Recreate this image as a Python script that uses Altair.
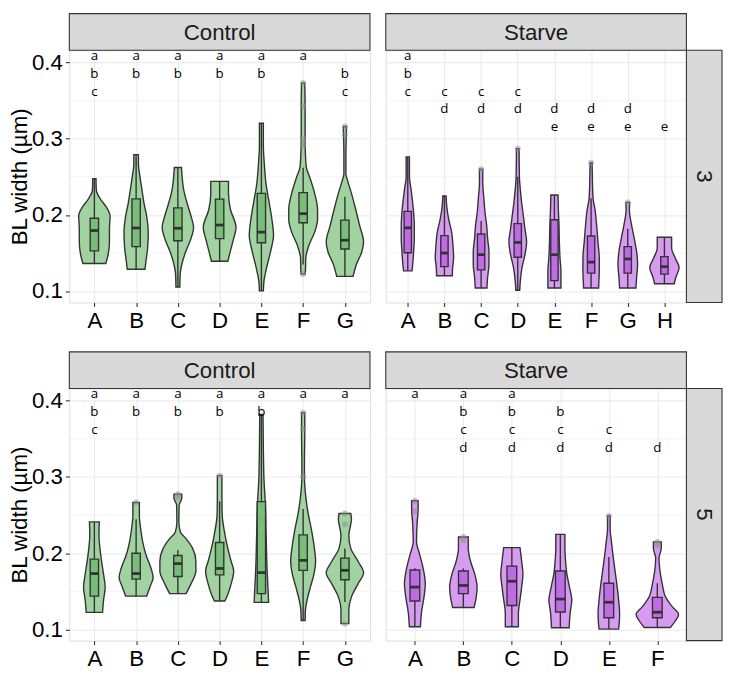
import altair as alt
import pandas as pd

# ---------------- data ----------------
# violin profiles: (BL width value, half-width in category units)
# box stats: (lower whisker, q1, median, q3, upper whisker)

R3_CTRL_CATS = ["A", "B", "C", "D", "E", "F", "G"]
R3_CTRL_VIOLIN = [
    [(0.2474, 0.039), (0.2325, 0.047), (0.2198, 0.157), (0.2113, 0.275), (0.1986, 0.376),
     (0.1816, 0.361), (0.1647, 0.361), (0.1477, 0.329), (0.1363, 0.275)],
    [(0.2792, 0.055), (0.2665, 0.055), (0.2495, 0.094), (0.2325, 0.141), (0.2156, 0.188),
     (0.1986, 0.251), (0.1774, 0.290), (0.1562, 0.275), (0.1392, 0.235), (0.1286, 0.212)],
    [(0.2622, 0.086), (0.2495, 0.102), (0.2325, 0.141), (0.2156, 0.220), (0.1986, 0.314),
     (0.1838, 0.376), (0.1689, 0.314), (0.1520, 0.188), (0.1350, 0.094), (0.1223, 0.055),
     (0.1053, 0.047)],
    [(0.2440, 0.212), (0.2283, 0.212), (0.2071, 0.259), (0.1838, 0.392), (0.1647, 0.314),
     (0.1477, 0.235), (0.1392, 0.196)],
    [(0.3203, 0.047), (0.2919, 0.047), (0.2665, 0.071), (0.2410, 0.110), (0.2156, 0.188),
     (0.1944, 0.251), (0.1732, 0.290), (0.1520, 0.220), (0.1307, 0.125), (0.1138, 0.063),
     (0.1002, 0.047)],
    [(0.3733, 0.039), (0.3428, 0.047), (0.3004, 0.047), (0.2792, 0.055), (0.2622, 0.078),
     (0.2495, 0.157), (0.2283, 0.275), (0.2071, 0.345), (0.1944, 0.345), (0.1774, 0.275),
     (0.1604, 0.141), (0.1435, 0.063), (0.1265, 0.055), (0.1223, 0.047)],
    [(0.3161, 0.039), (0.3004, 0.031), (0.2792, 0.024), (0.2538, 0.024), (0.2453, 0.063),
     (0.2283, 0.157), (0.2071, 0.259), (0.1859, 0.353), (0.1647, 0.447), (0.1520, 0.408),
     (0.1350, 0.275), (0.1193, 0.196)],
]
R3_CTRL_BOX = [
    (0.1363, 0.1528, 0.1795, 0.1956, 0.2474),
    (0.1286, 0.1583, 0.1829, 0.2211, 0.2792),
    (0.1053, 0.1660, 0.1825, 0.2092, 0.2622),
    (0.1392, 0.1689, 0.1867, 0.2207, 0.2440),
    (0.1002, 0.1634, 0.1774, 0.2283, 0.3203),
    (0.1350, 0.1897, 0.2016, 0.2292, 0.2620),
    (0.1193, 0.1553, 0.1668, 0.1931, 0.2240),
]
R3_CTRL_OUT = [[], [], [], [], [], [0.3733, 0.3428, 0.3000, 0.2950, 0.2905, 0.1223], [0.3161, 0.3050]]
R3_CTRL_LETTERS = ["abc", "ab", "ab", "ab", "ab", "a", "bc"]

R3_STARVE_CATS = ["A", "B", "C", "D", "E", "F", "G", "H"]
R3_STARVE_VIOLIN = [
    [(0.2762, 0.045), (0.2495, 0.045), (0.2368, 0.080), (0.2198, 0.125), (0.2029, 0.160),
     (0.1859, 0.178), (0.1690, 0.178), (0.1520, 0.160), (0.1350, 0.134), (0.1265, 0.116)],
    [(0.2249, 0.045), (0.2114, 0.062), (0.1944, 0.116), (0.1774, 0.196), (0.1605, 0.232),
     (0.1435, 0.250), (0.1308, 0.223), (0.1202, 0.214)],
    [(0.2601, 0.045), (0.2411, 0.045), (0.2241, 0.071), (0.2029, 0.107), (0.1859, 0.152),
     (0.1690, 0.178), (0.1520, 0.214), (0.1350, 0.214), (0.1181, 0.178), (0.1041, 0.160)],
    [(0.2869, 0.036), (0.2495, 0.045), (0.2326, 0.071), (0.2156, 0.107), (0.1986, 0.152),
     (0.1817, 0.196), (0.1647, 0.241), (0.1478, 0.196), (0.1308, 0.116), (0.1138, 0.071),
     (0.1011, 0.053)],
    [(0.2262, 0.098), (0.2071, 0.107), (0.1859, 0.125), (0.1647, 0.134), (0.1435, 0.152),
     (0.1265, 0.178), (0.1041, 0.178)],
    [(0.2686, 0.027), (0.2453, 0.036), (0.2220, 0.053), (0.2071, 0.107), (0.1859, 0.152),
     (0.1647, 0.187), (0.1435, 0.223), (0.1265, 0.223), (0.1138, 0.214), (0.1041, 0.205)],
    [(0.2165, 0.053), (0.2071, 0.045), (0.1859, 0.107), (0.1690, 0.178), (0.1520, 0.241),
     (0.1350, 0.267), (0.1181, 0.241), (0.1041, 0.223)],
    [(0.1707, 0.196), (0.1562, 0.196), (0.1435, 0.294), (0.1308, 0.401), (0.1181, 0.312),
     (0.1096, 0.267)],
]
R3_STARVE_BOX = [
    (0.1265, 0.1503, 0.1830, 0.2046, 0.2762),
    (0.1202, 0.1321, 0.1499, 0.1728, 0.2249),
    (0.1041, 0.1278, 0.1478, 0.1749, 0.1920),
    (0.1011, 0.1444, 0.1639, 0.1885, 0.2500),
    (0.1041, 0.1138, 0.1478, 0.1936, 0.2262),
    (0.1041, 0.1236, 0.1380, 0.1723, 0.2220),
    (0.1041, 0.1236, 0.1422, 0.1584, 0.1820),
    (0.1096, 0.1223, 0.1321, 0.1452, 0.1707),
]
R3_STARVE_OUT = [[], [], [0.2601], [0.2869], [], [0.2686], [0.2165], []]
R3_STARVE_LETTERS = ["abc", "cd", "cd", "cd", "de", "de", "de", "e"]

R5_CTRL_CATS = ["A", "B", "C", "D", "E", "F", "G"]
R5_CTRL_VIOLIN = [
    [(0.2410, 0.118), (0.2232, 0.110), (0.2062, 0.133), (0.1893, 0.173), (0.1723, 0.220),
     (0.1553, 0.259), (0.1384, 0.220), (0.1223, 0.196)],
    [(0.2665, 0.078), (0.2486, 0.078), (0.2317, 0.110), (0.2147, 0.157), (0.1978, 0.235),
     (0.1808, 0.353), (0.1681, 0.408), (0.1553, 0.329), (0.1435, 0.251)],
    [(0.2775, 0.094), (0.2720, 0.094), (0.2635, 0.031), (0.2402, 0.024), (0.2274, 0.063),
     (0.2190, 0.196), (0.2062, 0.353), (0.1893, 0.431), (0.1766, 0.431), (0.1596, 0.314),
     (0.1469, 0.196)],
    [(0.3017, 0.055), (0.2699, 0.055), (0.2486, 0.063), (0.2274, 0.118), (0.2062, 0.196),
     (0.1893, 0.275), (0.1766, 0.337), (0.1596, 0.275), (0.1470, 0.204), (0.1371, 0.125)],
    [(0.3822, 0.039), (0.3377, 0.047), (0.2953, 0.063), (0.2656, 0.094), (0.2316, 0.110),
     (0.1977, 0.125), (0.1723, 0.141), (0.1553, 0.157), (0.1354, 0.173)],
    [(0.3843, 0.039), (0.3589, 0.039), (0.3165, 0.031), (0.2995, 0.031), (0.2740, 0.063),
     (0.2528, 0.118), (0.2316, 0.196), (0.2104, 0.259), (0.1892, 0.298), (0.1723, 0.259),
     (0.1553, 0.173), (0.1383, 0.094), (0.1256, 0.055), (0.1116, 0.047)],
    [(0.2520, 0.141), (0.2444, 0.157), (0.2360, 0.133), (0.2232, 0.094), (0.2062, 0.141),
     (0.1893, 0.314), (0.1744, 0.447), (0.1596, 0.314), (0.1426, 0.157), (0.1256, 0.094),
     (0.1074, 0.094)],
]
R5_CTRL_BOX = [
    (0.1223, 0.1435, 0.1732, 0.1922, 0.2410),
    (0.1435, 0.1659, 0.1732, 0.1999, 0.2444),
    (0.1469, 0.1693, 0.1863, 0.1969, 0.2040),
    (0.1371, 0.1715, 0.1799, 0.2139, 0.2680),
    (0.1354, 0.1468, 0.1744, 0.2677, 0.3822),
    (0.1116, 0.1774, 0.1905, 0.2240, 0.2580),
    (0.1360, 0.1651, 0.1774, 0.1935, 0.2060),
]
R5_CTRL_OUT = [[], [0.2665], [0.2775, 0.2730], [0.3017], [], [0.3843, 0.3630, 0.3000], [0.2520, 0.2380, 0.1074]]
R5_CTRL_LETTERS = ["abc", "ab", "ab", "ab", "ab", "a", "a"]

R5_STARVE_CATS = ["A", "B", "C", "D", "E", "F"]
R5_STARVE_VIOLIN = [
    [(0.2687, 0.067), (0.2572, 0.067), (0.2402, 0.047), (0.2148, 0.034), (0.1978, 0.101),
     (0.1809, 0.168), (0.1597, 0.215), (0.1427, 0.189), (0.1215, 0.135), (0.1033, 0.114)],
    [(0.2212, 0.101), (0.2063, 0.101), (0.1894, 0.148), (0.1724, 0.236), (0.1554, 0.283),
     (0.1385, 0.256), (0.1287, 0.222)],
    [(0.2072, 0.168), (0.1894, 0.202), (0.1724, 0.229), (0.1554, 0.202), (0.1385, 0.168),
     (0.1215, 0.135), (0.1033, 0.135)],
    [(0.2246, 0.094), (0.2063, 0.094), (0.1894, 0.108), (0.1724, 0.135), (0.1554, 0.189),
     (0.1385, 0.236), (0.1215, 0.202), (0.1020, 0.182)],
    [(0.2487, 0.027), (0.2318, 0.027), (0.2148, 0.054), (0.1894, 0.101), (0.1639, 0.155),
     (0.1385, 0.202), (0.1215, 0.222), (0.1088, 0.215), (0.1003, 0.202)],
    [(0.2148, 0.081), (0.2063, 0.081), (0.1936, 0.034), (0.1766, 0.054), (0.1597, 0.101),
     (0.1427, 0.168), (0.1300, 0.303), (0.1194, 0.438), (0.1109, 0.370), (0.1024, 0.269)],
]
R5_STARVE_BOX = [
    (0.1033, 0.1372, 0.1554, 0.1779, 0.1800),
    (0.1287, 0.1469, 0.1575, 0.1766, 0.1800),
    (0.1033, 0.1313, 0.1631, 0.1830, 0.2072),
    (0.1020, 0.1228, 0.1397, 0.1766, 0.2246),
    (0.1003, 0.1151, 0.1355, 0.1605, 0.1950),
    (0.1024, 0.1151, 0.1224, 0.1419, 0.1605),
]
R5_STARVE_OUT = [[0.2687, 0.2550], [0.2212, 0.2170], [], [], [0.2487], [0.2148, 0.2100]]
R5_STARVE_LETTERS = ["a", "abcd", "abcd", "bcd", "cd", "d"]

Y_TICKS = [0.1, 0.2, 0.3, 0.4]
Y_MINOR = [0.15, 0.25, 0.35]

# ---------------- style ----------------
Y_DOMAIN = [0.0851, 0.4162]
LETTER_ORDER = "abcde"
LETTER_TOP = 0.4085
LETTER_STEP = 0.0233
W, H, STRIP, ROW_STRIP = 304, 255, 37, 36
BOX_HALF = 0.1
FONT = "Liberation Sans"
BIG = 22.5
DARK = "#333333"
GRID = "#ebebeb"
LINE = 1.4
GREEN = ("#a1d3a1", "#78bd78")
PURPLE = ("#d79cf1", "#c06be6")


def build_panel(cats, violin, box, outl, letters, colors, col_title, row_title, show_y):
    n = len(cats)
    vrows, brows, wrows, orows, lrows = [], [], [], [], []
    for i, (c, prof) in enumerate(zip(cats, violin), start=1):
        for (y, hw) in prof:
            vrows.append({"cat": c, "y": y, "xlo": i - hw, "xhi": i + hw})
    for i, (c, (lo, q1, med, q3, hi)) in enumerate(zip(cats, box), start=1):
        brows.append({"cat": c, "bx0": i - BOX_HALF, "bx1": i + BOX_HALF,
                      "q1": q1, "med": med, "q3": q3})
        wrows.append({"cat": c, "x": i, "y0": lo, "y1": q1})
        wrows.append({"cat": c, "x": i, "y0": q3, "y1": hi})
    for i, (c, pts) in enumerate(zip(cats, outl), start=1):
        for p in pts:
            orows.append({"cat": c, "x": i, "y": p})
    for i, (c, lets) in enumerate(zip(cats, letters), start=1):
        for ch in lets:
            lrows.append({"cat": c, "x": i, "letter": ch,
                          "y": LETTER_TOP - LETTER_STEP * LETTER_ORDER.index(ch)})

    label_js = "[" + ",".join("'%s'" % c for c in cats) + "][datum.value-1]"
    xscale = alt.Scale(domain=[0.4, n + 0.6], nice=False, zero=False)
    yscale = alt.Scale(domain=Y_DOMAIN, nice=False, zero=False)
    xaxis = alt.Axis(values=list(range(1, n + 1)), labelExpr=label_js, title=None,
                     grid=True, gridColor=GRID, gridWidth=1.1, domain=False,
                     tickColor=DARK, tickSize=4, tickWidth=1.1, labelFontSize=BIG,
                     labelFont=FONT, labelColor="black", labelPadding=3)
    if show_y:
        yaxis = alt.Axis(values=Y_TICKS, format=".1f", title="BL width (µm)",
                         grid=True, gridColor=GRID, gridWidth=1.1, domain=False,
                         tickColor=DARK, tickSize=4, tickWidth=1.1, labelFontSize=BIG,
                         labelFont=FONT, labelColor="black", labelPadding=3,
                         titleFont=FONT, titleFontSize=BIG, titleFontWeight="normal",
                         titleColor="black", titlePadding=0)
    else:
        yaxis = alt.Axis(values=Y_TICKS, title=None, labels=False, ticks=False,
                         grid=True, gridColor=GRID, gridWidth=1.1, domain=False)

    minor = alt.Chart(pd.DataFrame({"y": Y_MINOR})).mark_rule(
        color=GRID, strokeWidth=0.6).encode(y=alt.Y("y:Q", scale=yscale, axis=yaxis))

    violins = alt.Chart(pd.DataFrame(vrows)).mark_area(
        orient="horizontal", interpolate="monotone", fill=colors[0],
        stroke=DARK, strokeWidth=LINE, fillOpacity=1).encode(
        y=alt.Y("y:Q", scale=yscale, axis=yaxis),
        x=alt.X("xlo:Q", scale=xscale, axis=xaxis),
        x2="xhi:Q",
        detail="cat:N")

    whisk = alt.Chart(pd.DataFrame(wrows)).mark_rule(color=DARK, strokeWidth=LINE).encode(
        x=alt.X("x:Q", scale=xscale, axis=xaxis),
        y=alt.Y("y0:Q", scale=yscale, axis=yaxis), y2="y1:Q")

    boxes = alt.Chart(pd.DataFrame(brows)).mark_rect(
        fill=colors[1], stroke=DARK, strokeWidth=LINE).encode(
        x=alt.X("bx0:Q", scale=xscale, axis=xaxis), x2="bx1:Q",
        y=alt.Y("q1:Q", scale=yscale, axis=yaxis), y2="q3:Q")

    medians = alt.Chart(pd.DataFrame(brows)).mark_rule(color=DARK, strokeWidth=2.8).encode(
        x=alt.X("bx0:Q", scale=xscale, axis=xaxis), x2="bx1:Q",
        y=alt.Y("med:Q", scale=yscale, axis=yaxis))

    layers = [minor, violins, whisk, boxes, medians]
    if orows:
        pts = alt.Chart(pd.DataFrame(orows)).mark_circle(
            size=36, color="#8c8c8c", opacity=0.5).encode(
            x=alt.X("x:Q", scale=xscale, axis=xaxis),
            y=alt.Y("y:Q", scale=yscale, axis=yaxis))
        layers.append(pts)

    lets = alt.Chart(pd.DataFrame(lrows)).mark_text(
        font="Open Sans", fontSize=13.5, color="#000000", baseline="middle").encode(
        x=alt.X("x:Q", scale=xscale, axis=xaxis),
        y=alt.Y("y:Q", scale=yscale, axis=yaxis),
        text="letter:N")
    layers.append(lets)

    sdf = pd.DataFrame({"label": [col_title]})
    srect = alt.Chart(sdf).mark_rect(fill="#d9d9d9", stroke=DARK, strokeWidth=1.1).encode(
        x=alt.value(0), x2=alt.value(W), y=alt.value(-STRIP), y2=alt.value(0))
    stext = alt.Chart(sdf).mark_text(font=FONT, fontSize=BIG, color="#1a1a1a",
                                     baseline="middle", align="center").encode(
        x=alt.value(W / 2), y=alt.value(-STRIP / 2 + 1), text="label:N")
    layers += [srect, stext]

    if row_title is not None:
        rdf = pd.DataFrame({"label": [row_title]})
        rrect = alt.Chart(rdf).mark_rect(fill="#d9d9d9", stroke=DARK, strokeWidth=1.1).encode(
            x=alt.value(W), x2=alt.value(W + ROW_STRIP), y=alt.value(0), y2=alt.value(H))
        rtext = alt.Chart(rdf).mark_text(font=FONT, fontSize=BIG, color="#1a1a1a",
                                         baseline="middle", align="center", angle=90).encode(
            x=alt.value(W + ROW_STRIP / 2), y=alt.value(H / 2), text="label:N")
        layers += [rrect, rtext]

    return alt.layer(*layers).properties(width=W, height=H)


p1 = build_panel(R3_CTRL_CATS, R3_CTRL_VIOLIN, R3_CTRL_BOX, R3_CTRL_OUT, R3_CTRL_LETTERS,
                 GREEN, "Control", None, True)
p2 = build_panel(R3_STARVE_CATS, R3_STARVE_VIOLIN, R3_STARVE_BOX, R3_STARVE_OUT,
                 R3_STARVE_LETTERS, PURPLE, "Starve", "3", False)
p3 = build_panel(R5_CTRL_CATS, R5_CTRL_VIOLIN, R5_CTRL_BOX, R5_CTRL_OUT, R5_CTRL_LETTERS,
                 GREEN, "Control", None, True)
p4 = build_panel(R5_STARVE_CATS, R5_STARVE_VIOLIN, R5_STARVE_BOX, R5_STARVE_OUT,
                 R5_STARVE_LETTERS, PURPLE, "Starve", "5", False)

row3 = alt.hconcat(p1, p2, spacing=12)
row5 = alt.hconcat(p3, p4, spacing=12)
chart = alt.vconcat(row3, row5, spacing=18).properties(
    padding=0, background="white"
).configure_view(stroke=DARK, strokeWidth=1.1, fill="white").configure(font=FONT)

chart.save("out.html", embed_options={"renderer": "svg", "actions": False})
